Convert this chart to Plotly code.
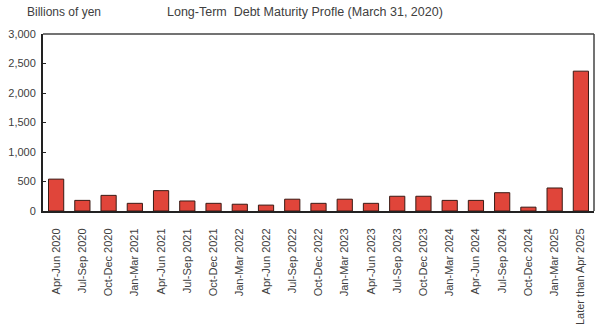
import plotly.graph_objects as go

categories = ["Apr-Jun 2020", "Jul-Sep 2020", "Oct-Dec 2020", "Jan-Mar 2021",
              "Apr-Jun 2021", "Jul-Sep 2021", "Oct-Dec 2021", "Jan-Mar 2022",
              "Apr-Jun 2022", "Jul-Sep 2022", "Oct-Dec 2022", "Jan-Mar 2023",
              "Apr-Jun 2023", "Jul-Sep 2023", "Oct-Dec 2023", "Jan-Mar 2024",
              "Apr-Jun 2024", "Jul-Sep 2024", "Oct-Dec 2024", "Jan-Mar 2025",
              "Later than Apr 2025"]
values = [540, 180, 265, 130, 345, 170, 130, 115, 100, 200,
          130, 200, 130, 250, 250, 180, 180, 310, 65, 390, 2370]
y_ticks = [0, 500, 1000, 1500, 2000, 2500, 3000]

fig = go.Figure(go.Bar(
    x=categories, y=values, width=0.58,
    marker=dict(color="#e0453a", line=dict(color="#3a1a14", width=1)),
))

fam = "Liberation Sans, Arial, sans-serif"
font = dict(family=fam, size=11, color="#404040")
fig.update_layout(
    width=598, height=331,
    margin=dict(l=43, r=4, t=34, b=120),
    paper_bgcolor="white", plot_bgcolor="white",
    showlegend=False, font=font,
    xaxis=dict(showline=True, linecolor="#222222", linewidth=2, mirror=False,
               tickangle=-90, ticks="", showgrid=False, tickfont=font,
               ticklabelstandoff=11),
    yaxis=dict(range=[0, 3000], tickvals=y_ticks, tickformat=",",
               showline=True, linecolor="#222222", linewidth=2,
               ticks="inside", ticklen=3, tickcolor="#222222",
               showgrid=False, zeroline=False, tickfont=font,
               ticklabelstandoff=3),
    shapes=[
        dict(type="line", xref="paper", yref="paper", x0=0, x1=1, y0=1, y1=1,
             line=dict(color="#444444", width=1.5)),
        dict(type="line", xref="paper", yref="paper", x0=1, x1=1, y0=0, y1=1,
             line=dict(color="#444444", width=1.5)),
    ],
    annotations=[
        dict(text="Billions of yen", xref="paper", yref="paper", x=-0.032, y=1.075,
             xanchor="left", yanchor="bottom", showarrow=False,
             font=dict(family=fam, size=12, color="#404040")),
        dict(text="Long-Term  Debt Maturity Profle (March 31, 2020)", xref="paper",
             yref="paper", x=0.475, y=1.075, xanchor="center", yanchor="bottom",
             showarrow=False,
             font=dict(family=fam, size=12.5, color="#404040")),
    ],
)
# minor category separator ticks on the x axis
fig.update_xaxes(minor=dict(ticks="inside", ticklen=3, tickcolor="#222222"))

fig.write_html("out.html")
